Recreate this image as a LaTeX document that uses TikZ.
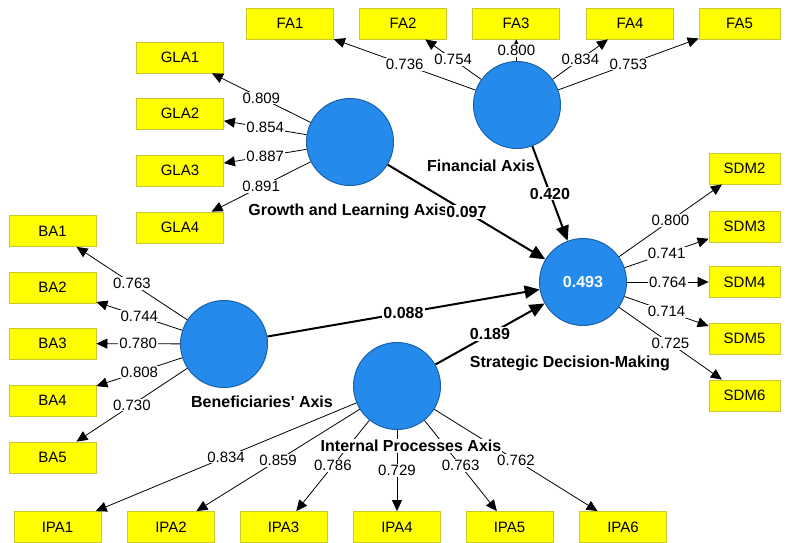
\documentclass[tikz,border=0pt]{standalone}
\usepackage{fontspec}
\setmainfont{Liberation Sans}
\usetikzlibrary{arrows.meta}
\definecolor{lvblue}{RGB}{36,138,236}
\definecolor{lvedge}{RGB}{28,96,170}
\definecolor{mvyellow}{RGB}{255,255,0}
\definecolor{mvedge}{RGB}{200,200,50}
\tikzset{
    lv/.style={draw=lvedge, fill=lvblue, circle, line width=1pt, minimum size=87pt, inner sep=0pt, text=white, font=\fontsize{16}{18}\selectfont\bfseries},
    mv/.style={draw=mvedge, fill=mvyellow, line width=0.8pt, minimum width=87pt, minimum height=31pt, inner sep=0pt, font=\fontsize{15}{17}\selectfont},
    lvname/.style={fill=white, inner sep=1pt, font=\fontsize{16}{18}\selectfont\bfseries},
    ld/.style={-{Triangle[length=11pt,width=10pt]}, line width=0.8pt},
    ldval/.style={midway, fill=white, inner sep=1pt, font=\fontsize{15}{17}\selectfont},
    pc/.style={-{Triangle[length=15pt,width=13pt]}, line width=2pt},
    pcval/.style={midway, fill=white, inner sep=1pt, font=\fontsize{16}{18}\selectfont\bfseries}
}
\begin{document}
\begin{tikzpicture}[x=1pt, y=-1pt]
    \useasboundingbox (0,0) rectangle (787,543);
    \node[lv] (gla) at (350,142) {};
    \node[lv] (fa) at (517,105) {};
    \node[lv] (ba) at (224,344) {};
    \node[lv] (ipa) at (397,386) {};
    \node[lv] (sdm) at (583,282) {0.493};

    \node[mv] (fa1) at (290,23.5) {FA1};
    \node[mv] (fa2) at (403,23.5) {FA2};
    \node[mv] (fa3) at (516,23.5) {FA3};
    \node[mv] (fa4) at (630,23.5) {FA4};
    \node[mv, minimum width=81pt] (fa5) at (739.5,23.5) {FA5};

    \node[mv] (gla1) at (180,57.5) {GLA1};
    \node[mv] (gla2) at (180,113.5) {GLA2};
    \node[mv] (gla3) at (180,170.5) {GLA3};
    \node[mv] (gla4) at (180,227.5) {GLA4};

    \node[mv] (ba1) at (52.5,231) {BA1};
    \node[mv] (ba2) at (52.5,287.5) {BA2};
    \node[mv] (ba3) at (52.5,343.5) {BA3};
    \node[mv] (ba4) at (52.5,400.5) {BA4};
    \node[mv] (ba5) at (52.5,457.5) {BA5};

    \node[mv] (ipa1) at (57.5,527) {IPA1};
    \node[mv] (ipa2) at (171,527) {IPA2};
    \node[mv] (ipa3) at (283.5,527) {IPA3};
    \node[mv] (ipa4) at (397,527) {IPA4};
    \node[mv] (ipa5) at (509.5,527) {IPA5};
    \node[mv] (ipa6) at (623,527) {IPA6};

    \node[mv, minimum width=71pt] (sdm2) at (744.5,168.5) {SDM2};
    \node[mv, minimum width=71pt] (sdm3) at (744.5,226.5) {SDM3};
    \node[mv, minimum width=71pt] (sdm4) at (744.5,282) {SDM4};
    \node[mv, minimum width=71pt] (sdm5) at (744.5,338.5) {SDM5};
    \node[mv, minimum width=71pt] (sdm6) at (744.5,395.5) {SDM6};

    \draw[ld] (fa) -- (fa1) node[ldval] {0.736};
    \draw[ld] (fa) -- (fa2) node[ldval] {0.754};
    \draw[ld] (fa) -- (fa3) node[ldval] {0.800};
    \draw[ld] (fa) -- (fa4) node[ldval] {0.834};
    \draw[ld] (fa) -- (fa5) node[ldval] {0.753};

    \draw[ld] (gla) -- (gla1) node[ldval] {0.809};
    \draw[ld] (gla) -- (gla2) node[ldval] {0.854};
    \draw[ld] (gla) -- (gla3) node[ldval] {0.887};
    \draw[ld] (gla) -- (gla4) node[ldval] {0.891};

    \draw[ld] (ba) -- (ba1) node[ldval] {0.763};
    \draw[ld] (ba) -- (ba2) node[ldval] {0.744};
    \draw[ld] (ba) -- (ba3) node[ldval] {0.780};
    \draw[ld] (ba) -- (ba4) node[ldval] {0.808};
    \draw[ld] (ba) -- (ba5) node[ldval] {0.730};

    \draw[ld] (ipa) -- (ipa1) node[ldval] {0.834};
    \draw[ld] (ipa) -- (ipa2) node[ldval] {0.859};
    \draw[ld] (ipa) -- (ipa3) node[ldval] {0.786};
    \draw[ld] (ipa) -- (ipa4) node[ldval] {0.729};
    \draw[ld] (ipa) -- (ipa5) node[ldval] {0.763};
    \draw[ld] (ipa) -- (ipa6) node[ldval] {0.762};

    \draw[ld] (sdm) -- (sdm2) node[ldval] {0.800};
    \draw[ld] (sdm) -- (sdm3) node[ldval] {0.741};
    \draw[ld] (sdm) -- (sdm4) node[ldval] {0.764};
    \draw[ld] (sdm) -- (sdm5) node[ldval] {0.714};
    \draw[ld] (sdm) -- (sdm6) node[ldval] {0.725};

    \node[lvname] (glaname) at (348,211) {Growth and Learning Axis};
    \node[lvname] (faname) at (481,166) {Financial Axis};
    \node[lvname] (baname) at (262,402) {Beneficiaries\textquotesingle{} Axis};
    \node[lvname] (ipaname) at (411,446) {Internal Processes Axis};
    \node[lvname] (sdmname) at (570,363) {Strategic Decision-Making};

    \draw[pc] (gla) -- (sdm) node[pcval] {0.097};
    \draw[pc] (fa) -- (sdm) node[pcval] {0.420};
    \draw[pc] (ba) -- (sdm) node[pcval] {0.088};
    \draw[pc] (ipa) -- (sdm) node[pcval] {0.189};
\end{tikzpicture}
\end{document}
